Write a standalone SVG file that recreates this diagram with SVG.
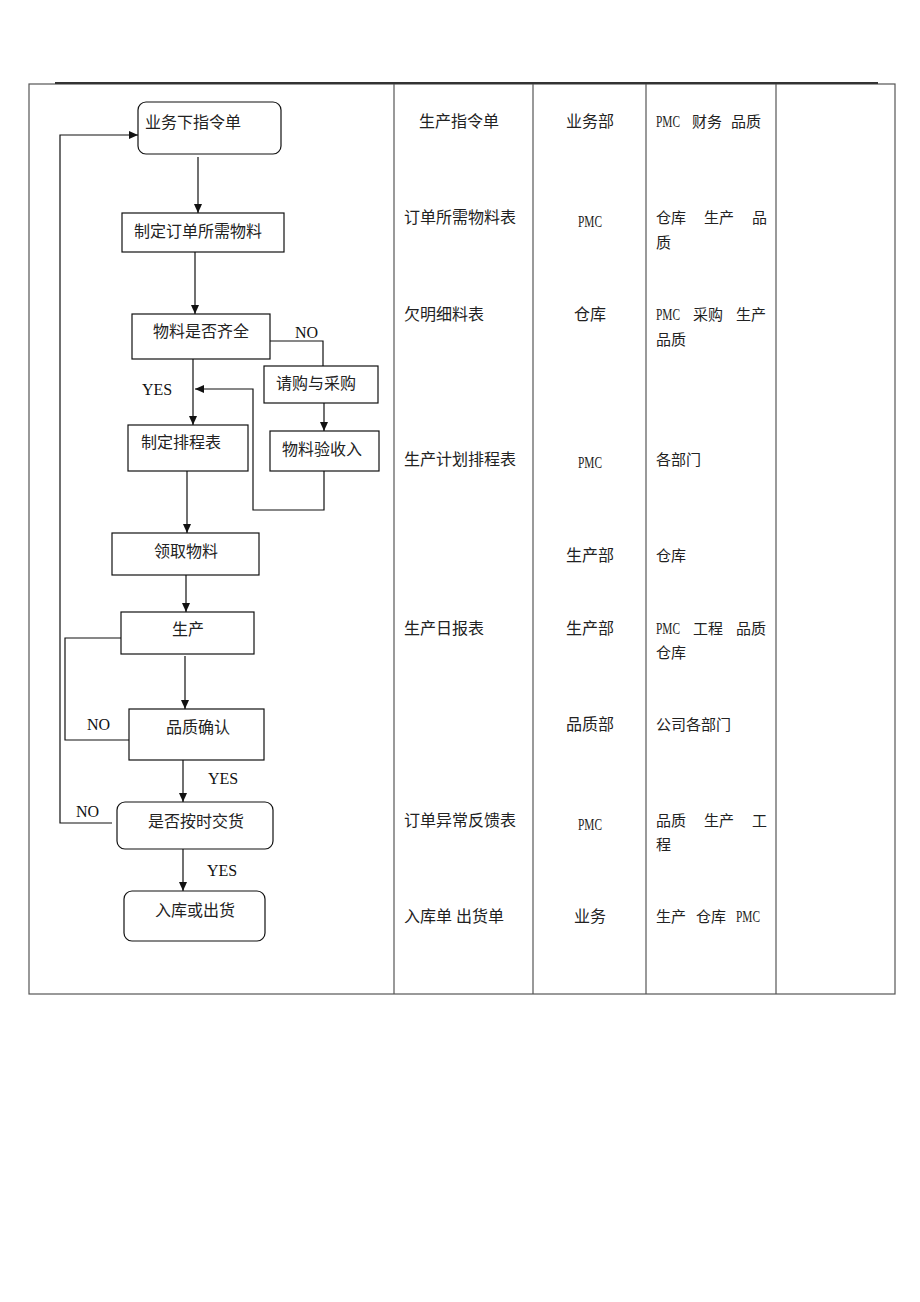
<svg xmlns="http://www.w3.org/2000/svg" width="920" height="1302" viewBox="0 0 920 1302">
<style>
.t{font-family:"Liberation Serif","Noto Sans CJK SC",serif;font-size:16px;fill:#222}
.r{font-family:"Liberation Serif","Noto Sans CJK SC",serif;font-size:15px;fill:#222}
.e{font-family:"Liberation Serif",serif;font-size:16px;fill:#111}
.p{font-family:"Liberation Serif",serif;font-size:17px;fill:#222}
.b{fill:#fff;stroke:#111;stroke-width:1.2}
.c{fill:none;stroke:#111;stroke-width:1.2}
.g{stroke:#555;stroke-width:1.2;fill:none}
</style>
<defs>
<marker id="a" markerWidth="10" markerHeight="10" refX="9" refY="5" orient="auto" markerUnits="userSpaceOnUse">
<path d="M0,1 L9,5 L0,9 Z" fill="#111"/>
</marker>
</defs>
<rect width="920" height="1302" fill="#fff"/>
<g id="table">
<rect x="29" y="84" width="866" height="910" class="g"/>
<line x1="55" y1="83" x2="878" y2="83" stroke="#333" stroke-width="2"/>
<line x1="394" y1="84" x2="394" y2="994" class="g"/>
<line x1="533" y1="84" x2="533" y2="994" class="g"/>
<line x1="646" y1="84" x2="646" y2="994" class="g"/>
<line x1="776" y1="84" x2="776" y2="994" class="g"/>
</g>
<g id="col-docs" class="t">
<text x="419" y="127">生产指令单</text>
<text x="404" y="223">订单所需物料表</text>
<text x="404" y="320">欠明细料表</text>
<text x="404" y="465">生产计划排程表</text>
<text x="404" y="634">生产日报表</text>
<text x="404" y="826">订单异常反馈表</text>
<text x="404" y="922">入库单 出货单</text>
</g>
<g id="col-dept" class="t">
<text x="590" y="127" text-anchor="middle">业务部</text>
<text x="578" y="227" class="p" textLength="24" lengthAdjust="spacingAndGlyphs">PMC</text>
<text x="590" y="320" text-anchor="middle">仓库</text>
<text x="578" y="468" class="p" textLength="24" lengthAdjust="spacingAndGlyphs">PMC</text>
<text x="590" y="561" text-anchor="middle">生产部</text>
<text x="590" y="634" text-anchor="middle">生产部</text>
<text x="590" y="730" text-anchor="middle">品质部</text>
<text x="578" y="830" class="p" textLength="24" lengthAdjust="spacingAndGlyphs">PMC</text>
<text x="590" y="922" text-anchor="middle">业务</text>
</g>
<g id="col-related" class="r">
<text x="656" y="127" class="p" textLength="24" lengthAdjust="spacingAndGlyphs">PMC</text>
<text x="692" y="127">财务<tspan x="731">品质</tspan></text>
<text x="656" y="223">仓库<tspan x="704">生产</tspan><tspan x="752">品</tspan></text>
<text x="656" y="248">质</text>
<text x="656" y="320" class="p" textLength="24" lengthAdjust="spacingAndGlyphs">PMC</text>
<text x="693" y="320">采购<tspan x="736">生产</tspan></text>
<text x="656" y="345">品质</text>
<text x="656" y="465">各部门</text>
<text x="656" y="561">仓库</text>
<text x="656" y="634" class="p" textLength="24" lengthAdjust="spacingAndGlyphs">PMC</text>
<text x="693" y="634">工程<tspan x="736">品质</tspan></text>
<text x="656" y="658">仓库</text>
<text x="656" y="730">公司各部门</text>
<text x="656" y="826">品质<tspan x="704">生产</tspan><tspan x="752">工</tspan></text>
<text x="656" y="850">程</text>
<text x="656" y="922">生产<tspan x="696">仓库</tspan></text>
<text x="736" y="922" class="p" textLength="24" lengthAdjust="spacingAndGlyphs">PMC</text>
</g>
<g id="connectors">
<line x1="198" y1="157" x2="198" y2="213" class="c" marker-end="url(#a)"/>
<line x1="195" y1="252" x2="195" y2="314" class="c" marker-end="url(#a)"/>
<polyline points="270,341 323,341 323,366" class="c"/>
<line x1="193" y1="359" x2="193" y2="425" class="c" marker-end="url(#a)"/>
<line x1="324" y1="403" x2="324" y2="431" class="c" marker-end="url(#a)"/>
<polyline points="324,471 324,510 253,510 253,389 195,389" class="c" marker-end="url(#a)"/>
<line x1="187" y1="471" x2="187" y2="533" class="c" marker-end="url(#a)"/>
<line x1="186" y1="575" x2="186" y2="612" class="c" marker-end="url(#a)"/>
<line x1="185" y1="656" x2="185" y2="709" class="c" marker-end="url(#a)"/>
<polyline points="121,638 65,638 65,740 129,740" class="c"/>
<line x1="183" y1="760" x2="183" y2="802" class="c" marker-end="url(#a)"/>
<polyline points="112,823 60,823 60,135 138,135" class="c" marker-end="url(#a)"/>
<line x1="183" y1="849" x2="183" y2="891" class="c" marker-end="url(#a)"/>
<text x="295" y="338" class="e">NO</text>
<text x="142" y="395" class="e">YES</text>
<text x="87" y="730" class="e">NO</text>
<text x="208" y="784" class="e">YES</text>
<text x="76" y="817" class="e">NO</text>
<text x="207" y="876" class="e">YES</text>
</g>
<g id="n1"><rect x="138" y="102" width="143" height="52" rx="8" class="b"/><text x="145" y="128" class="t">业务下指令单</text></g>
<g id="n2"><rect x="122" y="213" width="162" height="39" class="b"/><text x="134" y="237" class="t">制定订单所需物料</text></g>
<g id="n3"><rect x="132" y="314" width="138" height="45" class="b"/><text x="153" y="337" class="t">物料是否齐全</text></g>
<g id="n4"><rect x="264" y="366" width="114" height="37" class="b"/><text x="276" y="389" class="t">请购与采购</text></g>
<g id="n5"><rect x="270" y="431" width="109" height="40" class="b"/><text x="282" y="455" class="t">物料验收入</text></g>
<g id="n6"><rect x="128" y="425" width="120" height="46" class="b"/><text x="141" y="448" class="t">制定排程表</text></g>
<g id="n7"><rect x="112" y="533" width="147" height="42" class="b"/><text x="154" y="557" class="t">领取物料</text></g>
<g id="n8"><rect x="121" y="612" width="133" height="42" class="b"/><text x="172" y="635" class="t">生产</text></g>
<g id="n9"><rect x="129" y="709" width="135" height="51" class="b"/><text x="166" y="733" class="t">品质确认</text></g>
<g id="n10"><rect x="117" y="802" width="156" height="47" rx="8" class="b"/><text x="148" y="827" class="t">是否按时交货</text></g>
<g id="n11"><rect x="124" y="891" width="141" height="50" rx="8" class="b"/><text x="155" y="916" class="t">入库或出货</text></g>
</svg>
